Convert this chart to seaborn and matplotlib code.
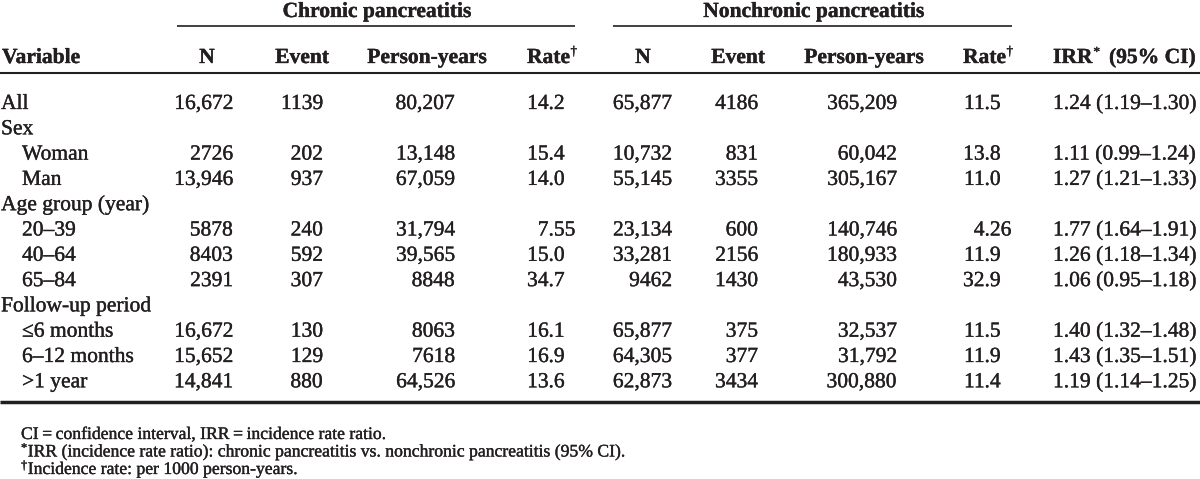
import matplotlib
matplotlib.use("Agg")
import matplotlib.pyplot as plt
import matplotlib.patheffects as pe
import pandas as pd
import seaborn as sns

# table content
variables = ["All", "Sex", "Woman", "Man", "Age group (year)", "20\u201339", "40\u201364", "65\u201384",
             "Follow-up period", "\u22646 months", "6\u201312 months", ">1 year"]
indent = [0, 0, 1, 1, 0, 1, 1, 1, 0, 1, 1, 1]
cp_n = ["16,672", "", "2726", "13,946", "", "5878", "8403", "2391", "", "16,672", "15,652", "14,841"]
cp_event = ["1139", "", "202", "937", "", "240", "592", "307", "", "130", "129", "880"]
cp_py = ["80,207", "", "13,148", "67,059", "", "31,794", "39,565", "8848", "", "8063", "7618", "64,526"]
cp_rate = ["14.2", "", "15.4", "14.0", "", "7.55", "15.0", "34.7", "", "16.1", "16.9", "13.6"]
ncp_n = ["65,877", "", "10,732", "55,145", "", "23,134", "33,281", "9462", "", "65,877", "64,305", "62,873"]
ncp_event = ["4186", "", "831", "3355", "", "600", "2156", "1430", "", "375", "377", "3434"]
ncp_py = ["365,209", "", "60,042", "305,167", "", "140,746", "180,933", "43,530", "", "32,537", "31,792", "300,880"]
ncp_rate = ["11.5", "", "13.8", "11.0", "", "4.26", "11.9", "32.9", "", "11.5", "11.9", "11.4"]
irr = ["1.24 (1.19\u20131.30)", "", "1.11 (0.99\u20131.24)", "1.27 (1.21\u20131.33)", "",
       "1.77 (1.64\u20131.91)", "1.26 (1.18\u20131.34)", "1.06 (0.95\u20131.18)", "",
       "1.40 (1.32\u20131.48)", "1.43 (1.35\u20131.51)", "1.19 (1.14\u20131.25)"]
groups = ["Chronic pancreatitis", "Nonchronic pancreatitis"]
col_heads = ["N", "Event", "Person-years"]
footnotes = ["CI\u2009=\u2009confidence interval, IRR\u2009=\u2009incidence rate ratio.",
             "IRR (incidence rate ratio): chronic pancreatitis vs. nonchronic pancreatitis (95% CI).",
             "Incidence rate: per 1000 person-years."]
foot_marks = ["", "*", "\u2020"]

df = pd.DataFrame({"var": variables, "indent": indent,
                   "cp_n": cp_n, "cp_event": cp_event, "cp_py": cp_py, "cp_rate": cp_rate,
                   "ncp_n": ncp_n, "ncp_event": ncp_event, "ncp_py": ncp_py, "ncp_rate": ncp_rate,
                   "irr": irr})

sns.set_theme(style="white")
plt.rcParams['font.family'] = ['Liberation Serif', 'DejaVu Serif']
INK = "#231f20"
FS = 15.5
FS_FOOT = 12.7

fig = plt.figure(figsize=(12, 4.79), dpi=100)
ax = fig.add_axes([0, 0, 1, 1])
ax.set_xlim(0, 1200)
ax.set_ylim(479, 0)
ax.axis("off")
renderer = fig.canvas.get_renderer()
# draw glyphs as paths so baselines don't jitter
PATH = [pe.withStroke(linewidth=0.25, foreground=INK)]


def txt(x, y, s, ha="left", size=FS, bold=False):
    return ax.text(x, y, s, ha=ha, va="baseline", fontsize=size, color=INK,
                   fontweight="bold" if bold else "normal", path_effects=PATH)


def right_edge(t):
    bb = t.get_window_extent(renderer=renderer)
    return ax.transData.inverted().transform((bb.x1, 0))[0]


def decimal(x_dec, y, s):
    if not s:
        return
    whole, frac = s.split(".")
    txt(x_dec, y, whole, ha="right")
    txt(x_dec, y, "." + frac, ha="left")


# column layouts (chronic, nonchronic)
blocks = [
    dict(pre="cp", n=233, ev=323, py=455, dec=548.5, rate_l=527, hn=207, hev=302, hpy=427,
         line=(177, 575), gc=377),
    dict(pre="ncp", n=672, ev=758, py=897, dec=984.5, rate_l=963, hn=643, hev=738, hpy=864,
         line=(613, 1012), gc=814),
]

# group headers and spanner lines
for g, b in zip(groups, blocks):
    txt(b["gc"], 17, g, ha="center", bold=True)
    ax.plot(list(b["line"]), [26, 26], color=INK, lw=1.2, solid_capstyle="butt")

# column headers
txt(2, 63, "Variable", bold=True)
for b in blocks:
    for key, h in zip(["hn", "hev", "hpy"], col_heads):
        txt(b[key], 63, h, ha="center", bold=True)
    t = txt(b["rate_l"], 63, "Rate", bold=True)
    txt(right_edge(t) + 0.5, 55, "\u2020", size=9.5)
t = txt(1053, 63, "IRR", bold=True)
txt(right_edge(t) + 1, 56, "*", size=10)
txt(1109, 63, "(95% CI)", bold=True)

ax.plot([0, 1200], [73, 73], color=INK, lw=1.5, solid_capstyle="butt")

# body rows
y0, step = 109, 25.3
for i, row in df.iterrows():
    y = y0 + i * step
    txt(1 + 21 * row["indent"], y, row["var"])
    for b in blocks:
        p = b["pre"]
        if row[p + "_n"]:
            txt(b["n"], y, row[p + "_n"], ha="right")
            txt(b["ev"], y, row[p + "_event"], ha="right")
            txt(b["py"], y, row[p + "_py"], ha="right")
        decimal(b["dec"], y, row[p + "_rate"])
    if row["irr"]:
        txt(1053, y, row["irr"])

ax.plot([0, 1200], [402, 402], color=INK, lw=2.5, solid_capstyle="butt")

# footnotes
for k, (m, f) in enumerate(zip(foot_marks, footnotes)):
    y = 439 + k * 17.5
    if m:
        t = txt(21, y - 5, m, size=9)
        txt(right_edge(t) + 0.5, y, f, size=FS_FOOT)
    else:
        txt(21, y, f, size=FS_FOOT)

fig.savefig("out.png", dpi=100, facecolor="white")
